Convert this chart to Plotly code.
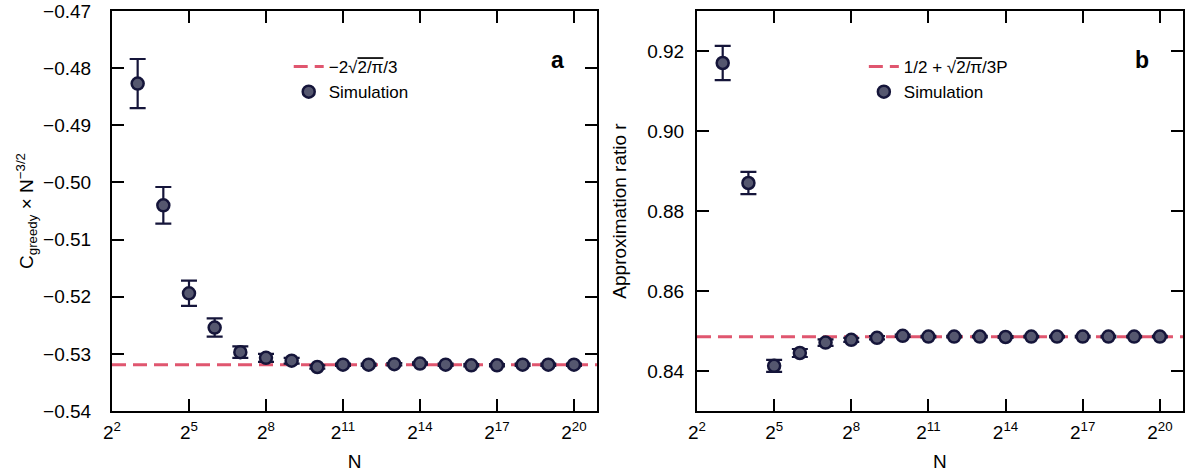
import math
import plotly.graph_objects as go

# ---------------- data ----------------
exponents = list(range(3, 21))            # N = 2^k
N_values = [2 ** k for k in exponents]

c_greedy = [-0.4827, -0.5040, -0.5194, -0.5254, -0.5297, -0.5307, -0.5312, -0.5323,
            -0.5319, -0.5319, -0.5318, -0.5317, -0.5319, -0.5320, -0.5320, -0.5319,
            -0.5319, -0.5319]
c_greedy_err = [0.0043, 0.0032, 0.0022, 0.0016, 0.0010, 0.0007, 0.0005, 0.0003,
                0.0002, 0.0002, 0.0002, 0.0002, 0.0002, 0.0002, 0.0002, 0.0002,
                0.0002, 0.0002]

ratio = [0.9170, 0.8870, 0.8413, 0.8445, 0.8471, 0.8478, 0.8483, 0.8488,
         0.8486, 0.8486, 0.8486, 0.8485, 0.8486, 0.8486, 0.8486, 0.8486,
         0.8486, 0.8486]
ratio_err = [0.0043, 0.0028, 0.0015, 0.0010, 0.0008, 0.0005, 0.0004, 0.0003,
             0.0002, 0.0002, 0.0002, 0.0002, 0.0002, 0.0002, 0.0002, 0.0002,
             0.0002, 0.0002]

theory_c = -2 * math.sqrt(2 / math.pi) / 3
theory_r = 0.84858

x_exp_range = [2, 20.9]
x_line = [2 ** x_exp_range[0], 2 ** x_exp_range[1]]
tick_exps = [2, 5, 8, 11, 14, 17, 20]
tick_vals = [2 ** k for k in tick_exps]
tick_text = [f"2<sup>{k}</sup>" for k in tick_exps]

yticks_a = [-0.54, -0.53, -0.52, -0.51, -0.50, -0.49, -0.48, -0.47]
yticks_b = [0.84, 0.86, 0.88, 0.90, 0.92]

# ---------------- style ----------------
FONT = "Liberation Sans, Arial, Helvetica, sans-serif"
NAVY = "#15153a"
FILL = "#55576f"
RED = "#e0566f"

fig = go.Figure()

def sim_trace(y, err, xa, ya, leg):
    return go.Scatter(
        x=N_values, y=y, mode="markers", name="Simulation",
        xaxis=xa, yaxis=ya, legend=leg,
        marker=dict(size=12, color=FILL, line=dict(color=NAVY, width=2.5)),
        error_y=dict(type="data", array=err, visible=True, color=NAVY,
                     thickness=2.2, width=8),
    )

def theory_trace(val, name, xa, ya, leg):
    return go.Scatter(
        x=x_line, y=[val, val], mode="lines", name=name,
        xaxis=xa, yaxis=ya, legend=leg,
        line=dict(color=RED, width=3, dash="14px,7px"),
    )

fig.add_trace(theory_trace(theory_c,
                           "−2√<span style='text-decoration:overline'>2/π</span>/3",
                           "x", "y", "legend"))
fig.add_trace(sim_trace(c_greedy, c_greedy_err, "x", "y", "legend"))
fig.add_trace(theory_trace(theory_r,
                           "1/2 + √<span style='text-decoration:overline'>2/π</span>/3P",
                           "x2", "y2", "legend2"))
fig.add_trace(sim_trace(ratio, ratio_err, "x2", "y2", "legend2"))

axis_common = dict(
    showline=True, linecolor="black", linewidth=2, mirror="ticks",
    ticks="inside", ticklen=12, tickwidth=2, tickcolor="black",
    showgrid=False, zeroline=False, automargin=False,
    ticklabeloverflow="allow",
    tickfont=dict(family=FONT, size=19, color="black"),
)

log2 = math.log10(2)
xrange_log = [x_exp_range[0] * log2, x_exp_range[1] * log2]

fig.update_layout(
    width=1193, height=472,
    paper_bgcolor="white", plot_bgcolor="white",
    margin=dict(l=112, r=10, t=11, b=61),
    font=dict(family=FONT, size=18, color="black"),
    showlegend=True,
    xaxis=dict(axis_common, domain=[0, 0.4529], type="log", range=xrange_log,
               tickvals=tick_vals, ticktext=tick_text, ticklabelstandoff=3,
               title=dict(text="N", font=dict(size=19), standoff=14), anchor="y"),
    yaxis=dict(axis_common, range=[-0.54, -0.47], tickvals=yticks_a,
               tickformat=".2f", ticklabelstandoff=15, anchor="x",
               title=dict(text="C<sub>greedy</sub> × N<sup>−3/2</sup>",
                          font=dict(size=19), standoff=4)),
    xaxis2=dict(axis_common, domain=[0.5462, 1.0], type="log", range=xrange_log,
                tickvals=tick_vals, ticktext=tick_text, ticklabelstandoff=3,
                title=dict(text="N", font=dict(size=19), standoff=14), anchor="y2"),
    yaxis2=dict(axis_common, range=[0.83, 0.93], tickvals=yticks_b,
                tickformat=".2f", ticklabelstandoff=7, anchor="x2",
                title=dict(text="Approximation ratio r", font=dict(size=19),
                           standoff=16)),
    legend=dict(x=0.165, y=0.905, xanchor="left", yanchor="top",
                bgcolor="rgba(0,0,0,0)", itemwidth=30, tracegroupgap=0,
                font=dict(family=FONT, size=17, color="black")),
    legend2=dict(x=0.702, y=0.905, xanchor="left", yanchor="top",
                 bgcolor="rgba(0,0,0,0)", itemwidth=30, tracegroupgap=0,
                 font=dict(family=FONT, size=17, color="black")),
    annotations=[
        dict(text="<b>a</b>", x=0.4155, y=0.915, xref="paper", yref="paper",
             showarrow=False, font=dict(family=FONT, size=23, color="black")),
        dict(text="<b>b</b>", x=0.9701, y=0.915, xref="paper", yref="paper",
             showarrow=False, font=dict(family=FONT, size=23, color="black")),
    ],
)

# remove the default 8px page margin so the figure fills the window exactly
fig.write_html("out.html",
               config={"displayModeBar": False},
               post_script="document.body.style.margin='0px';"
                           "document.body.style.overflow='hidden';")
